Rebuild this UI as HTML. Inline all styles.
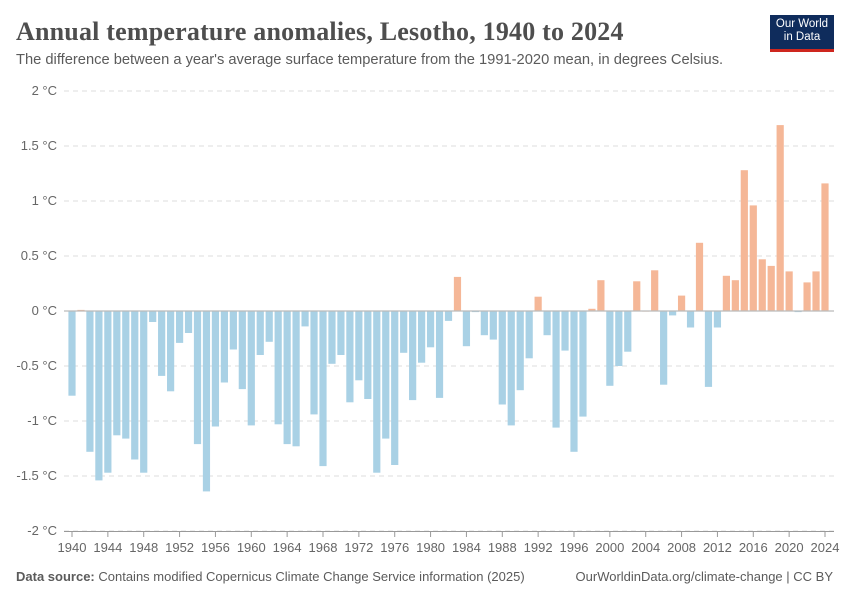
<!DOCTYPE html>
<html><head><meta charset="utf-8"><style>
body{margin:0;background:#fff;font-family:"Liberation Sans",sans-serif;}
#c{position:relative;width:850px;height:600px;overflow:hidden}
</style></head><body>
<div id="c">
<div style="position:absolute;left:16px;top:17px;font-family:'Liberation Serif',serif;font-size:26px;font-weight:bold;color:#4e4e4e;letter-spacing:0.2px">Annual temperature anomalies, Lesotho, 1940 to 2024</div>
<div style="position:absolute;left:16px;top:52px;font-size:14.7px;color:#5b5b5b">The difference between a year's average surface temperature from the 1991-2020 mean, in degrees Celsius.</div>
<div style="position:absolute;left:770px;top:15px;width:64px;height:37px;background:#0f2c5c;color:#fff;font-size:11.5px;line-height:13px;text-align:center;padding-top:3px;box-sizing:border-box;border-bottom:3px solid #ce261e">Our World<br>in Data</div>
<svg id="s" width="850" height="600" style="position:absolute;left:0;top:0"></svg>
<div style="position:absolute;left:16px;top:569px;font-size:13px;color:#5b5b5b"><b>Data source:</b> Contains modified Copernicus Climate Change Service information (2025)</div>
<div style="position:absolute;right:17px;top:569px;font-size:13px;color:#5b5b5b">OurWorldinData.org/climate-change | CC BY</div>
</div>
<script>
const startYear = 1940;
const values = [-0.77,0.01,-1.28,-1.54,-1.47,-1.13,-1.16,-1.35,-1.47,-0.10,
-0.59,-0.73,-0.29,-0.20,-1.21,-1.64,-1.05,-0.65,-0.35,-0.71,
-1.04,-0.40,-0.28,-1.03,-1.21,-1.23,-0.14,-0.94,-1.41,-0.48,
-0.40,-0.83,-0.63,-0.80,-1.47,-1.16,-1.40,-0.38,-0.81,-0.47,
-0.33,-0.79,-0.09,0.31,-0.32,-0.01,-0.22,-0.26,-0.85,-1.04,
-0.72,-0.43,0.13,-0.22,-1.06,-0.36,-1.28,-0.96,0.02,0.28,
-0.68,-0.50,-0.37,0.27,0.00,0.37,-0.67,-0.04,0.14,-0.15,
0.62,-0.69,-0.15,0.32,0.28,1.28,0.96,0.47,0.41,1.69,
0.36,-0.01,0.26,0.36,1.16];
const yTicks = [2,1.5,1,0.5,0,-0.5,-1,-1.5,-2];
const yTickLabels = ["2 °C","1.5 °C","1 °C","0.5 °C","0 °C","-0.5 °C","-1 °C","-1.5 °C","-2 °C"];
const xTicks = [1940,1944,1948,1952,1956,1960,1964,1968,1972,1976,1980,1984,1988,1992,1996,2000,2004,2008,2012,2016,2020,2024];

const NS="http://www.w3.org/2000/svg", svg=document.getElementById('s');
const y = v => 311 - v*110;
const x = yr => 72 + (yr-1940)*(825-72)/84;
function mk(t,a){const e=document.createElementNS(NS,t);for(const k in a)e.setAttribute(k,a[k]);svg.appendChild(e);return e;}
yTicks.forEach((v,i)=>{
  if(v!==0){const g=mk('line',{x1:64,x2:834,y1:y(v),y2:y(v),stroke:'#ddd','stroke-dasharray':'5,4'});
  
  }
  const t=mk('text',{x:57,y:y(v)+4,'text-anchor':'end','font-size':13,fill:'#666','font-family':'Liberation Sans, sans-serif'});
  t.textContent=yTickLabels[i];
  
  
});
values.forEach((v,i)=>{
  const yr=startYear+i;
  const top=Math.min(y(v),y(0)), h=Math.max(Math.abs(y(v)-y(0)),0.6);
  const r=mk('rect',{x:x(yr)-3.6,y:top,width:7.2,height:h,fill:v>=0?'#f5b797':'#a9d1e5'});
  
  
});
const z=mk('line',{x1:64,x2:834,y1:y(0),y2:y(0),stroke:'#bbb','stroke-width':1.3});


const ax=mk('line',{x1:64,x2:834,y1:531.5,y2:531.5,stroke:'#999'});


xTicks.forEach(yr=>{
  const tk=mk('line',{x1:x(yr),x2:x(yr),y1:532,y2:537,stroke:'#999'});
  
  
  const t=mk('text',{x:x(yr),y:552,'text-anchor':'middle','font-size':13,fill:'#666','font-family':'Liberation Sans, sans-serif'});
  t.textContent=yr;
  
  
});
</script>
</body></html>
